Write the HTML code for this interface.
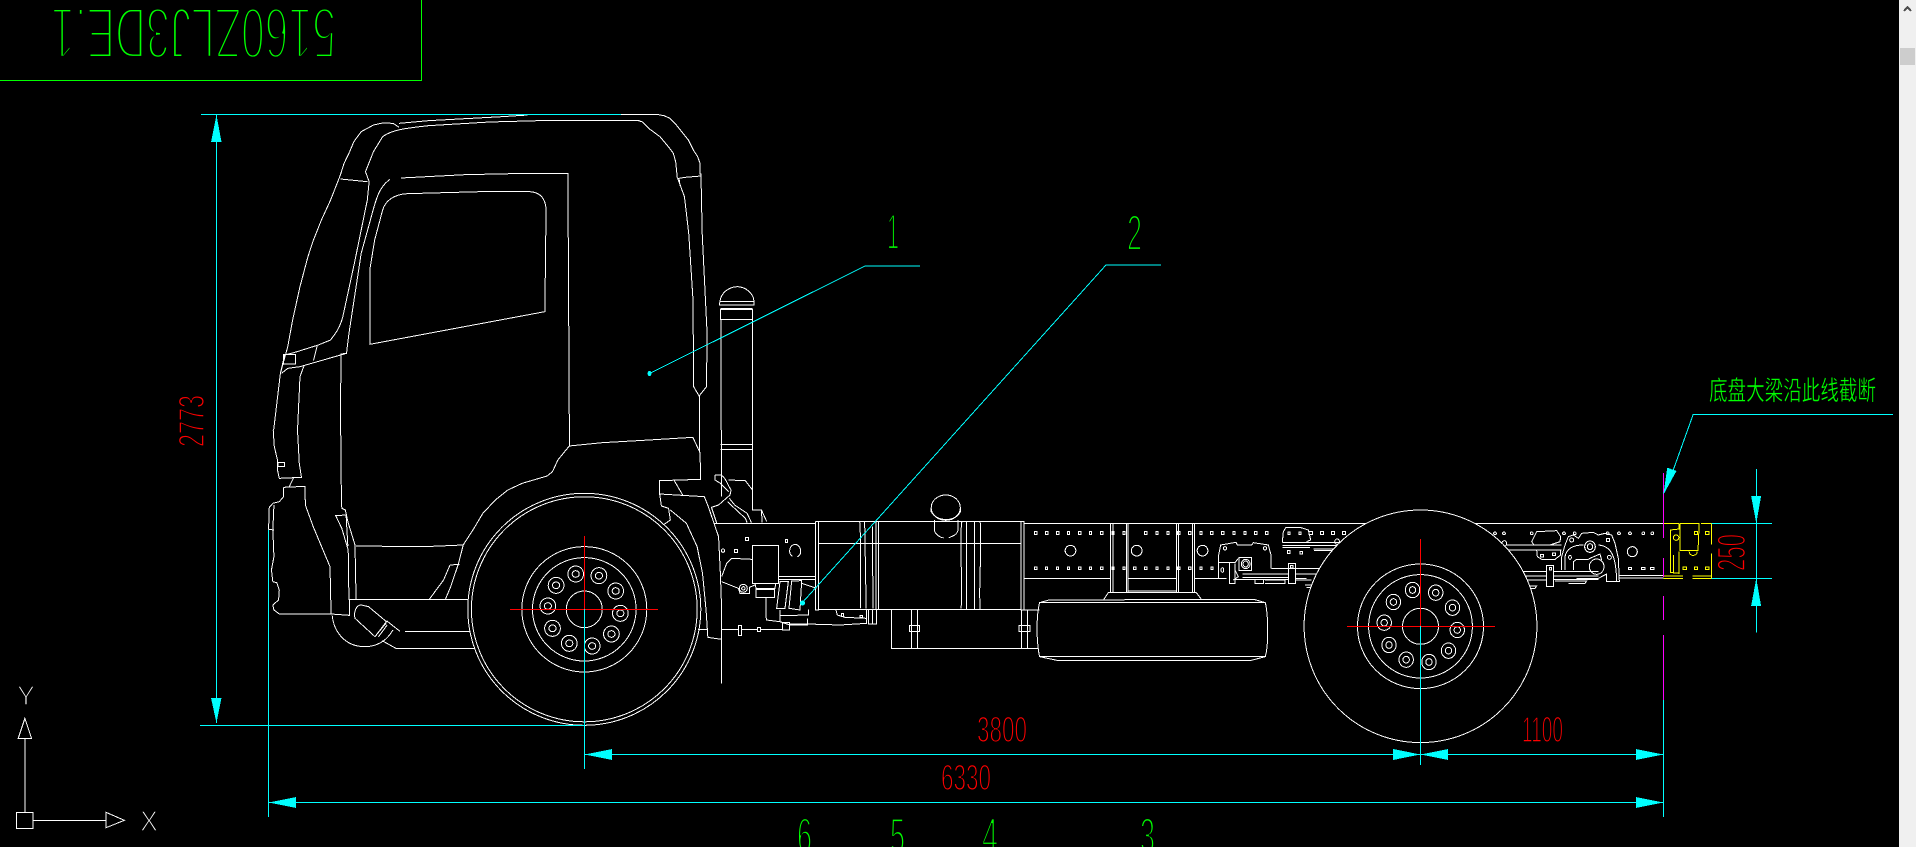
<!DOCTYPE html>
<html><head><meta charset="utf-8"><style>
html,body{margin:0;padding:0;background:#000;width:1916px;height:847px;overflow:hidden}
svg{position:absolute;left:0;top:0;display:block}
path,ellipse,rect,polygon,line{vector-effect:non-scaling-stroke;shape-rendering:crispEdges}
.w path,.w ellipse,.w rect{fill:none;stroke:#fff;stroke-width:1}
.c{fill:none;stroke:#0ff;stroke-width:1}
.t{font-family:"Liberation Sans",sans-serif;stroke:#000;paint-order:normal}
</style></head><body>
<svg width="1916" height="847" viewBox="0 0 1916 847" xmlns="http://www.w3.org/2000/svg">
<rect x="0" y="0" width="1916" height="847" fill="#000"/>

<!-- title box -->
<path d="M0,80.5H421.5V0" fill="none" stroke="#0f0"/>
<text class="t" transform="translate(336,8) rotate(180)" font-size="72" textLength="285" lengthAdjust="spacingAndGlyphs" fill="#0f0" stroke-width="4">5160ZLJ3DE.1</text>

<!-- cab, zoom1 coordinate group -->
<g class="w" transform="scale(0.6122,0.33333)">
<path d="M1145,525L1147,700L1155,1000L1154,1160L1142,1188L1133,1160L1132,900L1125,700L1118,590L1107,535"/>
<path d="M1045,362L880,362L800,366L700,377C660,385 640,390 625,410L610,455L597,515L603,545L600,600L580,780L560,950C555,985 548,1000 540,1020L520,1035L480,1058L465,1065L458,1120"/>
<path d="M652,370L700,362L820,350L862,345"/>
<path d="M652,382L642,370L625,369L610,375L590,395L578,425L570,460L562,490L556,525L540,600L525,660L512,720L503,770L490,860L478,960L470,1040L458,1120L447,1290"/>
<path d="M556,537L600,545"/>
<path d="M655,534L760,524L862,520H928L928,640L930,1290"/>
<path d="M637,538C620,560 615,590 605,660L590,760L570,1000L566,1060L490,1100L470,1105L460,1120"/>
<path d="M566,1060L557,1062L556,1290"/>
<path d="M604,1033L604,810L612,720L625,630C630,600 645,583 665,581L785,575L865,575C880,576 890,590 892,625L890,935Z"/>
<rect x="463" y="1063" width="20" height="29"/>
<path d="M518,1038L512,1082M497,1095L490,1130L486,1290"/>
<path d="M1175,915L1177,895C1182,870 1195,860 1205,860C1220,862 1228,880 1231,895L1232,915ZM1175,905H1232M1177,925H1229M1177,928H1229V958H1177ZM1178,958V1290M1229,958V1290M1143,1188V1290"/>
</g>

<!-- roof right corner -->
<g class="w" transform="translate(560,100) scale(0.33333)">
<path d="M183,44H295L312,47L330,55L345,70L365,95L385,120L400,150L413,170L420,190V222L423,222V228M352,236L375,232L423,228"/>
<path d="M235,62L248,66L270,88L300,110L325,140L340,160L347,185L352,235M358,238L360,258"/>
</g>

<!-- front section, zoom2 group -->
<g class="w" transform="translate(240,430) scale(0.35714,0.33333)">
<path d="M93,0L96,50L105,90L105,120L110,145L172,142L166,100L161,0"/>
<rect x="107" y="97" width="18" height="13"/>
<path d="M150,143L138,170M122,172V200L110,215L92,220L82,232L80,298M122,172L182,169L183,225L205,290L252,410L255,552H110L95,540L92,525L108,510L110,480L103,458L92,455L88,420L95,380L92,300L95,225M80,298L95,300"/>
<path d="M282,0L283,140L285,235L295,240L302,275L322,345L325,508H305L303,360L285,295L268,257L297,255L302,348"/>
<path d="M255,552L306,556V508H640M325,348L515,350L625,345"/>
<path d="M922,0V48L1015,38L1145,30L1268,22L1288,68L1290,148L1175,152V192L1180,228L1200,235L1205,270L1185,285"/>
<path d="M922,48L890,90L875,125L860,138L790,160L750,180L715,210L680,250L655,295L625,345L612,400L590,470L575,508M588,405L615,403M588,405L570,450L530,508"/>
<path d="M1175,192L1300,200L1312,232L1340,320L1345,430L1348,520V628L1310,622L1305,540L1295,430L1280,350L1250,280L1205,240M1215,150L1240,196"/>
<path d="M258,556C262,600 290,650 350,650C380,650 410,635 428,600"/>
<path d="M340,525C325,525 318,545 322,565L378,620L410,575L360,530ZM378,620L410,578M388,620L412,585M410,572L448,604M462,604H645M398,632L438,656H658M1282,598H1310"/>
<path d="M1287,0V68M1348,0V200M1435,0V240H1460L1462,278M1346,44H1435M1346,58H1435"/>
<path d="M1330,135H1345C1360,140 1365,165 1375,180L1372,195L1340,225L1320,232L1335,280M1330,135V150L1345,160L1368,185M1368,150L1415,152L1435,180M1370,205L1385,225L1420,250L1432,278M1365,215L1415,265L1420,278M1460,240L1475,275M1327,280H1568"/>
<path d="M1348,628V760"/>
</g>

<!-- engine detail, true 3x group -->
<g class="w" transform="translate(720,480) scale(0.33333)">
<rect x="97" y="196" width="79" height="114"/>
<rect x="77" y="172" width="8" height="10"/><rect x="196" y="178" width="7" height="10"/><rect x="44" y="208" width="8" height="9"/>
<ellipse cx="9" cy="212" rx="5" ry="5"/>
<path d="M218,229C205,225 205,196 225,193C245,195 248,225 232,230"/>
<path d="M175,290H285M175,298H285M180,305L170,385H195L205,305ZM215,303L207,385L240,390L245,302ZM245,310L290,325M105,310L108,325H165L167,310"/>
<rect x="108" y="328" width="55" height="24"/>
<path d="M138,352V410L140,420L180,425V407L265,405V388M180,390V425L210,435H262V415M208,432H262L360,435L440,430V390M348,390L352,405L375,412L440,415M445,390V432H470V388M457,390V432"/>
<rect x="364" y="401" width="7" height="8"/><rect x="420" y="407" width="7" height="6"/>
<rect x="187" y="427" width="21" height="23"/><rect x="55" y="436" width="10" height="30"/><rect x="112" y="442" width="10" height="13"/>
<path d="M5,449H55M65,449H112M122,449H187"/>
<path d="M5,305L55,325L60,340H88V322L105,315M5,290L20,250L35,235L97,238"/>
<ellipse cx="70" cy="325" rx="12" ry="12"/><ellipse cx="70" cy="325" rx="5" ry="5"/>
</g>

<!-- chassis mid, zoom3 group -->
<g class="w" transform="translate(720,470) scale(0.38265,0.33333)">
<path d="M0,160H250M795,160H1568"/>
<path d="M250,155H795V420H787V155M258,155V420H250V155M258,220H787M258,418H787"/>
<path d="M365,155C370,200 365,400 368,415M378,155L382,415M398,170L400,415M408,155V418M414,155V418M380,220H400"/>
<path d="M632,155C625,200 635,350 630,415M644,155V418M665,155V418M680,155C685,250 675,350 680,418M644,220H665"/>
<ellipse cx="590" cy="113" rx="38" ry="38"/>
<path d="M552,113V125C565,155 615,158 628,125V113M560,150V180C562,195 580,205 585,203M622,150V180C620,195 605,200 598,203"/>
<path d="M448,418V535H832M500,418V535M516,418V535M788,418V535M804,418V535M796,420H835"/>
<rect x="495" y="466" width="27" height="18"/><rect x="782" y="466" width="28" height="18"/>
<path d="M860,390L1395,388L1425,398C1432,430 1435,520 1425,560L1385,572H885L835,560C825,500 828,430 835,398ZM835,398H1425M835,560H1425"/>
<path d="M1003,388L1015,368H1245L1258,388M1020,160V368M1027,160V368M1062,160V368M1066,160V368M1193,160V368M1198,160V368M1235,160V368M1240,160V368M1066,325H1193M1066,363H1193M795,325H1020M1240,325H1300"/>
<g>
<rect x="822" y="185" width="6" height="9"/><rect x="851" y="185" width="6" height="9"/><rect x="880" y="185" width="6" height="9"/><rect x="908" y="185" width="6" height="9"/><rect x="937" y="185" width="6" height="9"/><rect x="965" y="185" width="6" height="9"/><rect x="995" y="185" width="6" height="9"/><rect x="1024" y="185" width="6" height="9"/><rect x="1053" y="185" width="6" height="9"/><rect x="1110" y="185" width="6" height="9"/><rect x="1139" y="185" width="6" height="9"/><rect x="1168" y="185" width="6" height="9"/><rect x="1196" y="185" width="6" height="9"/><rect x="1225" y="185" width="6" height="9"/><rect x="1254" y="185" width="6" height="9"/><rect x="1282" y="185" width="6" height="9"/><rect x="1311" y="185" width="6" height="9"/><rect x="1340" y="185" width="6" height="9"/><rect x="1369" y="185" width="6" height="9"/><rect x="1397" y="185" width="6" height="9"/><rect x="1426" y="185" width="6" height="9"/>
<rect x="822" y="291" width="6" height="8"/><rect x="850" y="291" width="6" height="8"/><rect x="879" y="291" width="6" height="8"/><rect x="908" y="291" width="6" height="8"/><rect x="937" y="291" width="6" height="8"/><rect x="965" y="291" width="6" height="8"/><rect x="995" y="291" width="6" height="8"/><rect x="1024" y="291" width="6" height="8"/><rect x="1053" y="291" width="6" height="8"/><rect x="1081" y="291" width="6" height="8"/><rect x="1110" y="291" width="6" height="8"/><rect x="1139" y="291" width="6" height="8"/><rect x="1168" y="291" width="6" height="8"/><rect x="1196" y="291" width="6" height="8"/><rect x="1225" y="291" width="6" height="8"/><rect x="1254" y="291" width="6" height="8"/><rect x="1283" y="291" width="6" height="8"/>
</g>
<ellipse cx="916" cy="242" rx="14" ry="16"/><ellipse cx="1089" cy="242" rx="14" ry="16"/><ellipse cx="1261" cy="242" rx="14" ry="16"/>
</g>

<!-- front spring bracket, true 3x group -->
<g class="w" transform="translate(1200,500) scale(0.33333)">
<path d="M55,235V170L62,135L108,127L112,135H155L160,128L205,135L213,165V205"/>
<rect x="117" y="172" width="38" height="40"/>
<ellipse cx="137" cy="192" rx="13" ry="14"/><ellipse cx="137" cy="192" rx="8" ry="9"/>
<ellipse cx="75" cy="145" rx="5" ry="5"/><ellipse cx="195" cy="145" rx="5" ry="5"/><ellipse cx="67" cy="210" rx="4" ry="7"/>
<path d="M55,188H105L115,175M88,188V250H105V190M105,210L115,230L100,240M215,205H360M0,235H80M127,222H265M287,222H358M127,232H265M287,235H320M105,238H265M195,240H255V250H195M165,238V250H190V240M287,240H335"/>
<rect x="265" y="190" width="22" height="60"/><rect x="272" y="196" width="7" height="8"/>
<path d="M247,127L250,95L258,82H300L325,90L332,120L320,125M247,127H420M247,137H420M247,143H330M340,147H420M342,152H420M315,255H335V262H320"/>
<rect x="262" y="151" width="8" height="9"/><rect x="300" y="155" width="7" height="7"/>
<rect x="264" y="96" width="6" height="8"/><rect x="297" y="96" width="6" height="8"/>
</g>

<!-- rear spring bracket, true 3x group -->
<g class="w" transform="translate(1530,500) scale(0.33333)">
<path d="M5,125L20,95L80,92L92,110L90,125L60,135H12ZM-70,135H95M-70,150H95M20,150L22,170L35,178H75L92,165V150"/>
<rect x="32" y="163" width="8" height="8"/><rect x="68" y="159" width="8" height="8"/>
<path d="M95,210V170L105,135L115,110L130,105L145,115L155,100L190,97L205,105L225,100L245,105L255,130L265,175L268,245H230V222L205,235H140"/>
<path d="M105,210V170C110,145 130,135 160,135M205,135C240,138 258,160 260,243M130,210V185L140,178H175L180,175L210,162L215,180"/>
<ellipse cx="180" cy="140" rx="16" ry="17"/><ellipse cx="180" cy="140" rx="8" ry="9"/>
<ellipse cx="200" cy="200" rx="22" ry="23"/>
<ellipse cx="125" cy="120" rx="6" ry="6"/><rect x="229" y="115" width="10" height="10"/>
<ellipse cx="120" cy="172" rx="4" ry="6"/><ellipse cx="238" cy="172" rx="6" ry="6"/>
<ellipse cx="307" cy="155" rx="15" ry="15"/>
<rect x="295" y="202" width="10" height="6"/><rect x="335" y="202" width="10" height="6"/><rect x="362" y="202" width="10" height="6"/>
<ellipse cx="-77" cy="130" rx="7" ry="8"/>
<ellipse cx="5" cy="100" rx="4" ry="4"/><ellipse cx="102" cy="100" rx="4" ry="4"/><ellipse cx="134" cy="100" rx="4" ry="4"/><ellipse cx="233" cy="100" rx="4" ry="4"/><ellipse cx="267" cy="100" rx="4" ry="4"/><ellipse cx="300" cy="100" rx="4" ry="4"/><ellipse cx="340" cy="100" rx="4" ry="4"/><ellipse cx="367" cy="100" rx="4" ry="4"/>
<ellipse cx="-105" cy="100" rx="4" ry="4"/><ellipse cx="-78" cy="100" rx="4" ry="4"/>
<path d="M268,226H400M268,234H400"/>
<path d="M-25,215H50M-25,228H50M-25,240H50M70,215H205M70,228H205M70,238H205M75,243H170L165,250H115M-20,258H20L15,265H-10"/>
<rect x="50" y="197" width="20" height="63"/><rect x="58" y="202" width="7" height="8"/>
</g>

<!-- frame top + bolts beside rear tyre -->
<g class="w" transform="translate(1290,360) scale(0.39923,0.33333)">
<path d="M0,490H190M465,490H935"/>
<rect x="48" y="515" width="8" height="9"/><rect x="76" y="515" width="8" height="9"/><rect x="104" y="515" width="8" height="9"/><rect x="131" y="515" width="8" height="9"/>
<ellipse cx="118" cy="545" rx="6" ry="8"/>
</g>

<!-- front wheel -->
<g class="w">
<ellipse cx="584.3" cy="609.3" rx="116.5" ry="116"/>
<ellipse cx="584.3" cy="609.3" rx="112.9" ry="112.5"/>
<ellipse cx="584.3" cy="609.3" rx="62.5" ry="62.7"/>
<ellipse cx="584.3" cy="609.3" rx="51.8" ry="51.7"/>
<ellipse cx="584.3" cy="609.3" rx="18" ry="18.3"/>
</g>
<g class="w" transform="translate(240,430) scale(0.35714,0.33333)">
<ellipse cx="940" cy="432" rx="22" ry="24"/><ellipse cx="940" cy="432" rx="10" ry="10"/>
<ellipse cx="1005" cy="437" rx="22" ry="24"/><ellipse cx="1005" cy="437" rx="10" ry="10"/>
<ellipse cx="1052" cy="483" rx="22" ry="24"/><ellipse cx="1052" cy="483" rx="10" ry="10"/>
<ellipse cx="1065" cy="550" rx="22" ry="24"/><ellipse cx="1065" cy="550" rx="10" ry="10"/>
<ellipse cx="1040" cy="612" rx="22" ry="24"/><ellipse cx="1040" cy="612" rx="10" ry="10"/>
<ellipse cx="986" cy="648" rx="22" ry="24"/><ellipse cx="986" cy="648" rx="10" ry="10"/>
<ellipse cx="922" cy="640" rx="22" ry="24"/><ellipse cx="922" cy="640" rx="10" ry="10"/>
<ellipse cx="875" cy="595" rx="22" ry="24"/><ellipse cx="875" cy="595" rx="10" ry="10"/>
<ellipse cx="862" cy="528" rx="22" ry="24"/><ellipse cx="862" cy="528" rx="10" ry="10"/>
<ellipse cx="885" cy="466" rx="22" ry="24"/><ellipse cx="885" cy="466" rx="10" ry="10"/>
</g>

<!-- rear wheel -->
<ellipse cx="1420.5" cy="626.3" rx="116.4" ry="116.3" fill="#000" stroke="#fff"/>
<g class="w">
<ellipse cx="1420.5" cy="626.3" rx="63" ry="62.3"/>
<ellipse cx="1420.5" cy="626.3" rx="51.9" ry="51.7"/>
<ellipse cx="1420.5" cy="626.3" rx="18" ry="18"/>
</g>
<g class="w" transform="translate(1290,360) scale(0.39923,0.33333)">
<ellipse cx="307" cy="690" rx="18" ry="23"/><ellipse cx="307" cy="690" rx="8" ry="10"/>
<ellipse cx="365" cy="698" rx="18" ry="23"/><ellipse cx="365" cy="698" rx="8" ry="10"/>
<ellipse cx="407" cy="743" rx="18" ry="23"/><ellipse cx="407" cy="743" rx="8" ry="10"/>
<ellipse cx="419" cy="810" rx="18" ry="23"/><ellipse cx="419" cy="810" rx="8" ry="10"/>
<ellipse cx="397" cy="872" rx="18" ry="23"/><ellipse cx="397" cy="872" rx="8" ry="10"/>
<ellipse cx="348" cy="906" rx="18" ry="23"/><ellipse cx="348" cy="906" rx="8" ry="10"/>
<ellipse cx="291" cy="899" rx="18" ry="23"/><ellipse cx="291" cy="899" rx="8" ry="10"/>
<ellipse cx="248" cy="855" rx="18" ry="23"/><ellipse cx="248" cy="855" rx="8" ry="10"/>
<ellipse cx="236" cy="788" rx="18" ry="23"/><ellipse cx="236" cy="788" rx="8" ry="10"/>
<ellipse cx="259" cy="726" rx="18" ry="23"/><ellipse cx="259" cy="726" rx="8" ry="10"/>
</g>

<!-- yellow end piece -->
<g transform="translate(1290,360) scale(0.39923,0.33333)" fill="none" stroke="#ff0">
<path d="M935,490H975V507L953,510V637L975,640V575M977,492V572H1022L1025,490H977M1029,490H1056V553M1056,580V656H1008M935,648H985M935,656H985M1008,648H1056M960,585V640M1000,575C1000,590 1020,590 1020,575"/>
<ellipse cx="967" cy="533" rx="7" ry="8"/><rect x="1013" y="515" width="8" height="9"/><rect x="1041" y="515" width="8" height="9"/><rect x="985" y="621" width="8" height="8"/><rect x="1013" y="621" width="8" height="8"/><rect x="1041" y="621" width="8" height="8"/>
</g>

<!-- centre marks -->
<path d="M510,609.5H658M584.5,536V609.5M1347,626.5H1495M1420.5,539V626.5" fill="none" stroke="#f00"/>

<!-- dimensions real coordinates -->
<path class="c" d="M201,114.5H621M216.5,115V723M200,725.5H585M584.5,609V769M268.5,530V817M585,754.5H1663M269,802.5H1663M1420.5,626V765M1663.5,700V817"/>
<path d="M1663.5,473V538M1663.5,558V577M1663.5,596V620M1663.5,635V700" fill="none" stroke="#f0f"/>
<polygon points="216.5,115 211,142 221.5,142" fill="#0ff"/>
<polygon points="216.5,723 211,698 221.5,698" fill="#0ff"/>
<polygon points="585,754.5 612,749 612,760" fill="#0ff"/>
<polygon points="1420.5,754.5 1393,749 1393,760" fill="#0ff"/>
<polygon points="1420.5,754.5 1448,749 1448,760" fill="#0ff"/>
<polygon points="1663,754.5 1636,749 1636,760" fill="#0ff"/>
<polygon points="269,802.5 296,797 296,808" fill="#0ff"/>
<polygon points="1663,802.5 1636,797 1636,808" fill="#0ff"/>

<!-- cut leader, 250 dim -->
<g transform="translate(1290,360) scale(0.39923,0.33333)">
<path class="c" d="M1510,163H1010L960,330M1168,327V818M1056,490H1207M1056,655H1207"/>
<polygon points="935,405 945,323 968,333" fill="#0ff"/>
<polygon points="1168,490 1155,408 1180,408" fill="#0ff"/>
<polygon points="1168,655 1155,738 1180,738" fill="#0ff"/>
</g>

<!-- balloons -->
<path class="c" d="M649.5,373.5L865,266H920M802,603L1106,265H1161"/>
<ellipse cx="649.5" cy="373.5" rx="2" ry="2.5" fill="#0ff"/>
<ellipse cx="802.5" cy="603" rx="2.5" ry="2.5" fill="#0ff"/>

<!-- UCS icon -->
<g class="w" transform="translate(0,660) scale(0.82908,0.33333)">
<path d="M30,235V457M40,481H128M30,175L22,235H38ZM128,457L150,481L128,503Z"/>
<rect x="20" y="457" width="20" height="49"/>
</g>
<text x="17" y="705" font-family="Liberation Sans,sans-serif" font-size="28" textLength="18" lengthAdjust="spacingAndGlyphs" fill="#fff" stroke="#000" stroke-width="1.4">Y</text>
<text x="140" y="831" font-family="Liberation Sans,sans-serif" font-size="29" textLength="18" lengthAdjust="spacingAndGlyphs" fill="#fff" stroke="#000" stroke-width="1.4">X</text>

<!-- red dimension text -->
<g fill="#f00">
<text class="t" transform="translate(204,447) rotate(-90)" font-size="36" textLength="52" lengthAdjust="spacingAndGlyphs" stroke-width="1.5">2773</text>
<text class="t" x="977" y="742" font-size="36" textLength="50" lengthAdjust="spacingAndGlyphs" stroke-width="1.5">3800</text>
<text class="t" x="941" y="790" font-size="36" textLength="50" lengthAdjust="spacingAndGlyphs" stroke-width="1.5">6330</text>
<text class="t" x="1522" y="742" font-size="36" textLength="41" lengthAdjust="spacingAndGlyphs" stroke-width="1.5">1100</text>
<text class="t" transform="translate(1745,571) rotate(-90)" font-size="40" textLength="37" lengthAdjust="spacingAndGlyphs" stroke-width="1.7">250</text>
</g>

<!-- green labels -->
<g fill="#0f0">
<text class="t" x="887" y="249" font-size="50" textLength="12" lengthAdjust="spacingAndGlyphs" stroke-width="2.3">1</text>
<text class="t" x="1127" y="250" font-size="50" textLength="15" lengthAdjust="spacingAndGlyphs" stroke-width="2.3">2</text>
<text class="t" x="797" y="853" font-size="50" textLength="15" lengthAdjust="spacingAndGlyphs" stroke-width="2.3">6</text>
<text class="t" x="890" y="853" font-size="50" textLength="15" lengthAdjust="spacingAndGlyphs" stroke-width="2.3">5</text>
<text class="t" x="982" y="853" font-size="50" textLength="16" lengthAdjust="spacingAndGlyphs" stroke-width="2.3">4</text>
<text class="t" x="1140" y="853" font-size="50" textLength="15" lengthAdjust="spacingAndGlyphs" stroke-width="2.3">3</text>
<text transform="translate(1709,400) scale(1,1.45)" font-family="'Liberation Sans','Noto Sans CJK SC',sans-serif" font-size="18.5" textLength="167" lengthAdjust="spacingAndGlyphs" stroke="#000" stroke-width="0.3">底盘大梁沿此线截断</text>
</g>

<!-- scrollbar -->
<rect x="1899" y="0" width="17" height="847" fill="#f0f0f0"/>
<rect x="1900" y="48" width="15" height="17" fill="#cdcdcd"/>
<path d="M1904,11L1907.5,7L1911,11" fill="none" stroke="#505050" stroke-width="2"/>
</svg>
</body></html>
